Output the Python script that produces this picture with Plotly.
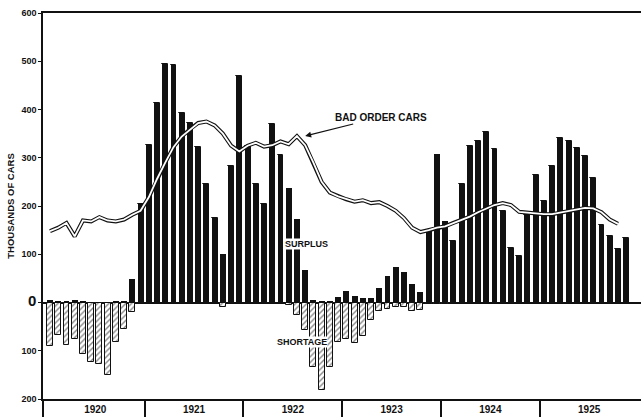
import plotly.graph_objects as go

# Freight car surplus / shortage, Jan 1920 - Nov 1925 (thousands of cars, monthly)
YEARS = ["1920", "1921", "1922", "1923", "1924", "1925"]

SURPLUS = [
    5, 3, 3, 6, 2, 1, 1, 1, 2, 3, 48, 205,                    # 1920
    326, 413, 495, 493, 393, 372, 322, 245, 175, 100, 283, 470,  # 1921
    324, 245, 205, 369, 305, 238, 174, 67, 5, 2, 4, 12,        # 1922
    24, 14, 10, 10, 30, 55, 73, 64, 39, 21, 153, 308,          # 1923
    168, 128, 245, 325, 335, 353, 318, 189, 113, 96, 181, 264,  # 1924
    211, 282, 341, 335, 321, 304, 259, 160, 137, 111, 133,     # 1925
]

SHORTAGE = [
    -90, -68, -88, -76, -106, -124, -127, -150, -81, -55, -19, 0,
    0, 0, 0, 0, 0, 0, 0, 0, 0, -10, 0, 0,
    0, 0, 0, 0, 0, -6, -26, -58, -134, -181, -134, -82,
    -75, -83, -70, -36, -17, -14, -10, -10, -18, -16, -3, -4,
    -3, 0, 0, 0, 0, 0, 0, 0, 0, 0, 0, 0,
    0, 0, 0, 0, 0, 0, 0, 0, 0, 0, 0,
]

BAD_ORDER = [
    148, 155, 165, 137, 170, 168, 177, 170, 168, 172, 182, 190,
    218, 256, 290, 322, 344, 359, 372, 375, 367, 350, 325, 313,
    325, 331, 323, 326, 334, 328, 345, 326, 290, 250, 228, 220,
    214, 209, 212, 206, 208, 200, 190, 175, 155, 146, 150, 155,
    158, 165, 171, 178, 187, 195, 202, 206, 202, 188, 186, 185,
    183, 183, 186, 190, 192, 196, 195, 187, 172, 163,
]

Y_TICKS = [-200, -100, 0, 100, 200, 300, 400, 500, 600]

FONT = "Liberation Sans, Arial, sans-serif"
INK = "#111111"

months = list(range(len(SURPLUS)))
line_x = list(range(len(BAD_ORDER)))
x_lo, x_hi = -0.85, 71.8

fig = go.Figure()

fig.add_trace(go.Bar(
    x=months, y=SURPLUS, width=0.72,
    marker=dict(color=INK, line=dict(width=0)),
    name="Surplus",
))
fig.add_trace(go.Bar(
    x=months, y=SHORTAGE, width=0.72,
    marker=dict(color="white", line=dict(color=INK, width=1),
                pattern=dict(shape="/", fgcolor=INK, bgcolor="white", size=4, solidity=0.35)),
    name="Shortage",
))

# double-ruled line: thick black under thin white
fig.add_trace(go.Scatter(x=line_x, y=BAD_ORDER, mode="lines",
                         line=dict(color=INK, width=4), hoverinfo="skip"))
fig.add_trace(go.Scatter(x=line_x, y=BAD_ORDER, mode="lines",
                         line=dict(color="white", width=1.8), name="Bad order cars"))

year_mid = [12 * k + 5.5 for k in range(len(YEARS))]
year_edges = [x_lo + 0.05] + [12 * k - 0.5 for k in range(1, len(YEARS))]

ytext = []
for v in Y_TICKS:
    if v == 0:
        ytext.append("<span style='font-size:15px'><b>0</b></span>")
    else:
        ytext.append(f"<b>{abs(v)}</b>")

peak = 30
fig.add_annotation(x=peak + 1, y=BAD_ORDER[peak], text="<b>BAD ORDER CARS</b>",
                   showarrow=True, arrowhead=2, arrowsize=1, arrowwidth=1.2, arrowcolor=INK,
                   ax=76, ay=-19, font=dict(size=10, color=INK, family=FONT))
fig.add_annotation(x=31.2, y=121, text="<b>SURPLUS</b>", showarrow=False,
                   bgcolor="white", borderpad=0, font=dict(size=9, color=INK, family=FONT))
fig.add_annotation(x=30.6, y=-82, text="<b>SHORTAGE</b>", showarrow=False,
                   bgcolor="white", borderpad=0, font=dict(size=9, color=INK, family=FONT))

fig.update_layout(
    width=641, height=417,
    margin=dict(l=43, r=0, t=13, b=18),
    paper_bgcolor="white", plot_bgcolor="white",
    barmode="relative", bargap=0, showlegend=False,
    font=dict(family=FONT, color=INK),
    xaxis=dict(
        range=[x_lo, x_hi], showgrid=False, zeroline=False,
        showline=True, linecolor=INK, linewidth=1.5, mirror=True,
        tickmode="array", tickvals=year_mid, ticktext=[f"<b>{y}</b>" for y in YEARS],
        ticks="", tickfont=dict(size=10, family=FONT, color=INK),
        minor=dict(tickmode="array", tickvals=year_edges, ticks="outside",
                   ticklen=18, tickwidth=1.5, tickcolor=INK),
    ),
    yaxis=dict(
        range=[-200, 600], showgrid=False,
        zeroline=True, zerolinecolor=INK, zerolinewidth=2,
        showline=True, linecolor=INK, linewidth=1.5,
        tickmode="array", tickvals=Y_TICKS, ticktext=ytext,
        ticks="outside", ticklen=3, tickcolor=INK,
        tickfont=dict(size=9, family=FONT, color=INK),
        title=dict(text="<b>THOUSANDS OF CARS</b>", standoff=5,
                   font=dict(size=9.5, family=FONT, color=INK)),
    ),
)

fig.write_html("out.html", config={"displayModeBar": False},
               post_script="document.body.style.margin='0';")
